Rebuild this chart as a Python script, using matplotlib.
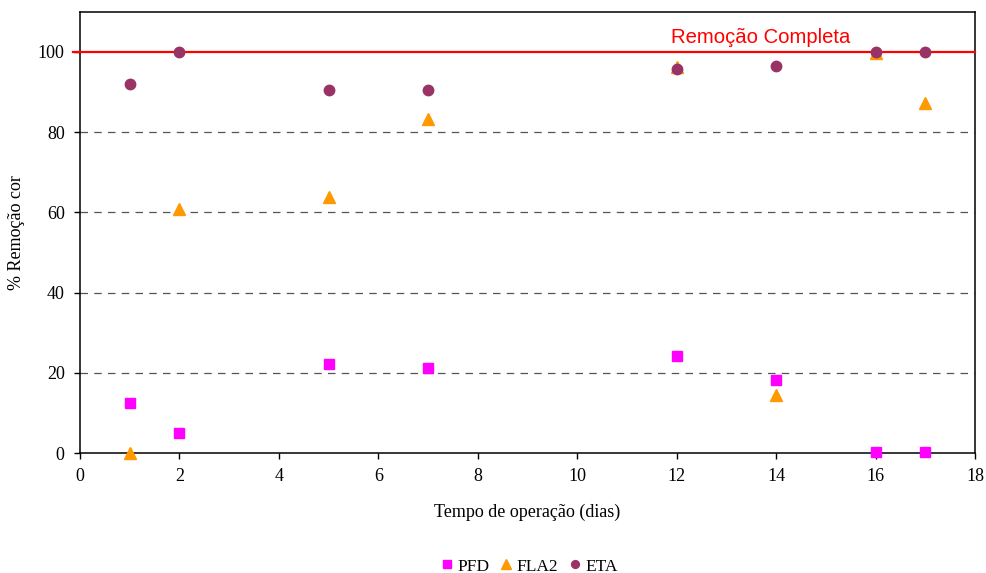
import matplotlib
matplotlib.use("Agg")
import matplotlib.pyplot as plt

# tempo de operacao (dias)
dias = [1, 2, 5, 7, 12, 14, 16, 17]

# % remocao de cor
pfd = [12.4, 5.1, 22.3, 21.1, 24.2, 18.3, 0.2, 0.2]
fla2 = [0.0, 60.9, 63.7, 83.3, 96.1, 14.4, 99.6, 87.2]
eta = [92.1, 100.0, 90.6, 90.5, 95.7, 96.5, 100.0, 100.0]

plt.rcParams['font.family'] = ['Liberation Serif', 'DejaVu Serif']

fig = plt.figure(figsize=(9.86, 5.73), dpi=100)
ax = fig.add_axes([0.0811, 0.2094, 0.9077, 0.7702])

for yv in [20, 40, 60, 80]:
    ax.axhline(yv, color='#555555', linestyle=(0, (6, 5)), linewidth=0.9, zorder=1)
ax.axhline(100, xmin=-0.008, color='#ff0000', linewidth=1.6, zorder=5, clip_on=False)
ax.text(13.7, 101.2, 'Remoção Completa', color='#ff0000', ha='center', va='bottom',
        fontsize=14.6, family=['Liberation Sans', 'DejaVu Sans'])

ax.plot(dias, pfd, linestyle='None', marker='s', color='#ff00ff', markersize=7.5,
        label='PFD', zorder=6, clip_on=False)
ax.plot(dias, fla2, linestyle='None', marker='^', color='#ff9900', markersize=9,
        label='FLA2', zorder=6, clip_on=False)
ax.plot(dias, eta, linestyle='None', marker='o', color='#993366', markersize=7.5,
        label='ETA', zorder=7, clip_on=False)

ax.set_xlim(0, 18)
ax.set_ylim(0, 110)
ax.set_xticks(range(0, 19, 2))
ax.set_yticks(range(0, 101, 20))
ax.tick_params(labelsize=13, direction='out', length=4, width=1, pad=7)
for s in ax.spines.values():
    s.set_linewidth(1.1)

ax.set_xlabel('Tempo de operação (dias)', fontsize=13, labelpad=13)
ax.set_ylabel('% Remoção cor', fontsize=13, labelpad=9)

fig.legend(loc='lower center', bbox_to_anchor=(0.535, -0.03), ncol=3, frameon=False,
           fontsize=12.5, handletextpad=0.05, columnspacing=0.4, markerscale=0.75,
           handlelength=1.1)

fig.savefig('out.png', dpi=100)
